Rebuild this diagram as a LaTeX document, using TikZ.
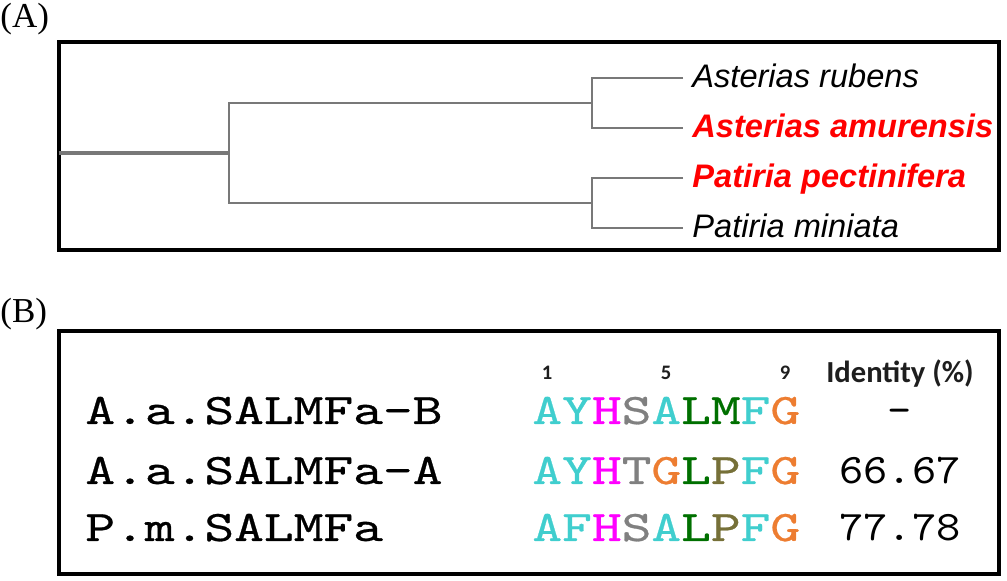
\documentclass[tikz,border=0pt]{standalone}
\usepackage{fontspec}
\setmainfont{Liberation Serif}
\newfontfamily\treefont{Liberation Sans}
\newfontfamily\calfont{Carlito}
\newfontfamily\seqfont{lmmono10-regular.otf}[FakeStretch=1.3,FakeBold=0.6]
\newfontfamily\pctfont{lmmono10-regular.otf}[FakeStretch=1.1]
\usepackage{xcolor}
\definecolor{branchgray}{RGB}{120,120,120}
\definecolor{hitred}{RGB}{255,0,0}
\definecolor{rescyan}{RGB}{64,206,206}
\definecolor{resmag}{RGB}{255,0,255}
\definecolor{resgray}{RGB}{128,128,128}
\definecolor{resgreen}{RGB}{0,112,0}
\definecolor{resolive}{RGB}{118,112,56}
\definecolor{resorange}{RGB}{237,125,49}
\newcommand{\rc}[2]{\textcolor{#1}{#2}}

\tikzset{
  panel/.style={draw=black,line width=2pt},
  branch/.style={draw=branchgray,line width=1.35pt},
  taxon/.style={anchor=west,inner xsep=4.5pt,inner ysep=0pt,text height=10pt,text depth=0pt,
    font={\treefont\itshape\fontsize{16.3}{18}\selectfont}},
  hit/.style={taxon,text=hitred,font={\treefont\bfseries\itshape\fontsize{16.3}{18}\selectfont}},
  tag/.style={anchor=base west,inner sep=0pt,font=\fontsize{17.5}{20}\selectfont},
  pep/.style={anchor=base west,inner sep=0pt,font={\seqfont\fontsize{21.8}{26}\selectfont}},
  pct/.style={anchor=base,inner sep=0pt,font={\pctfont\fontsize{21}{24}\selectfont}},
  head/.style={anchor=base,inner sep=0pt,text={rgb,255:red,30;green,30;blue,30}}
}

\begin{document}
\begin{tikzpicture}[x=0.5pt,y=-0.5pt]
  \useasboundingbox (0,0) rectangle (1007,581);

  % (A) tree
  \node[tag] (labA) at (0,28) {(A)};
  \draw[panel] (58.5,42) rectangle (998.5,250);
  \coordinate (root) at (58.5,153);
  \coordinate (n0) at (229,153);
  \coordinate (nA) at (592,103);
  \coordinate (nP) at (592,203);
  \node[taxon] (rubens) at (683,78) {Asterias rubens};
  \node[hit] (amurensis) at (683,128) {Asterias amurensis};
  \node[hit] (pectinifera) at (683,178) {Patiria pectinifera};
  \node[taxon] (miniata) at (683,228) {Patiria miniata};
  \draw[branch,line width=2pt] (root) -- (n0);
  \draw[branch] (nA) -| (n0) |- (nP);
  \draw[branch] (rubens.west) -| (nA) |- (amurensis.west);
  \draw[branch] (pectinifera.west) -| (nP) |- (miniata.west);

  % (B) alignment
  \node[tag] (labB) at (0,323) {(B)};
  \draw[panel] (58.5,331) rectangle (998.5,574);
  \node[head,font={\calfont\bfseries\fontsize{10.3}{12}\selectfont}] (pos1) at (547,380) {1};
  \node[head,font={\calfont\bfseries\fontsize{10.3}{12}\selectfont}] (pos5) at (666,380) {5};
  \node[head,font={\calfont\bfseries\fontsize{10.3}{12}\selectfont}] (pos9) at (785,380) {9};
  \node[head,font={\calfont\bfseries\fontsize{15.3}{18}\selectfont}] (ident) at (900,383) {Identity (\%)};

  \node[pep] (nameB) at (85,424) {A.a.SALMFa-B};
  \node[pep] (nameA) at (85,484) {A.a.SALMFa-A};
  \node[pep] (namePm) at (85,541) {P.m.SALMFa};

  \node[pep] (seqB) at (532,424) {\rc{rescyan}{AY}\rc{resmag}{H}\rc{resgray}{S}\rc{rescyan}{A}\rc{resgreen}{LM}\rc{rescyan}{F}\rc{resorange}{G}};
  \node[pep] (seqA) at (532,484) {\rc{rescyan}{AY}\rc{resmag}{H}\rc{resgray}{T}\rc{resorange}{G}\rc{resgreen}{L}\rc{resolive}{P}\rc{rescyan}{F}\rc{resorange}{G}};
  \node[pep] (seqPm) at (532,541) {\rc{rescyan}{AF}\rc{resmag}{H}\rc{resgray}{S}\rc{rescyan}{A}\rc{resgreen}{L}\rc{resolive}{P}\rc{rescyan}{F}\rc{resorange}{G}};

  \node[pct] (idB) at (900,424) {\textendash};
  \node[pct] (idA) at (900,484) {66.67};
  \node[pct] (idPm) at (900,541) {77.78};
\end{tikzpicture}
\end{document}
